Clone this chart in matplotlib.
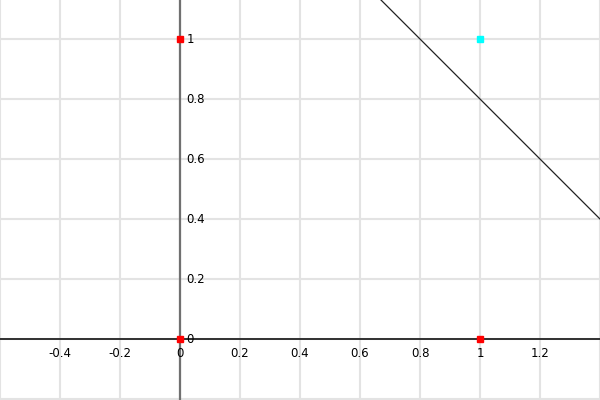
import matplotlib
matplotlib.use("Agg")
import matplotlib.pyplot as plt
import numpy as np

# data
red_x = [0, 0, 1]
red_y = [1, 0, 0]
cyan_x = [1]
cyan_y = [1]
line_x = [0.6, 1.4]
line_y = [1.2, 0.4]   # y = -x + 1.8
xticks = [-0.4, -0.2, 0, 0.2, 0.4, 0.6, 0.8, 1, 1.2]
yticks = [0, 0.2, 0.4, 0.6, 0.8, 1]
grid_x = np.arange(-3, 8) * 0.2
grid_y = np.arange(-1, 6) * 0.2

fig = plt.figure(figsize=(6, 4), dpi=100)
ax = fig.add_axes([0, 0, 1, 1])
ax.set_xlim(-0.6, 1.4)
ax.set_ylim(-0.2033, 1.13)

for gx in grid_x:
    ax.axvline(gx, color="#e3e3e3", lw=1.5, zorder=0)
for gy in grid_y:
    ax.axhline(gy, color="#e3e3e3", lw=1.5, zorder=0)

# axes through the origin
ax.axhline(0, color="black", lw=1.1, zorder=1)
ax.axvline(0, color="#707070", lw=1.6, zorder=1)

ax.plot(line_x, line_y, color="#222222", lw=0.9, zorder=2)
ax.plot(red_x, red_y, "s", color="red", ms=4.2, zorder=3)
ax.plot(cyan_x, cyan_y, "s", color="cyan", ms=4.2, zorder=3)

for t in xticks:
    ax.text(t, -0.027, "%g" % t, ha="center", va="top", fontsize=8.5)
for t in yticks:
    ax.text(0.022, t, "%g" % t, ha="left", va="center", fontsize=8.5)

for s in ax.spines.values():
    s.set_visible(False)
ax.set_xticks([])
ax.set_yticks([])

fig.savefig("out.png", dpi=100)
